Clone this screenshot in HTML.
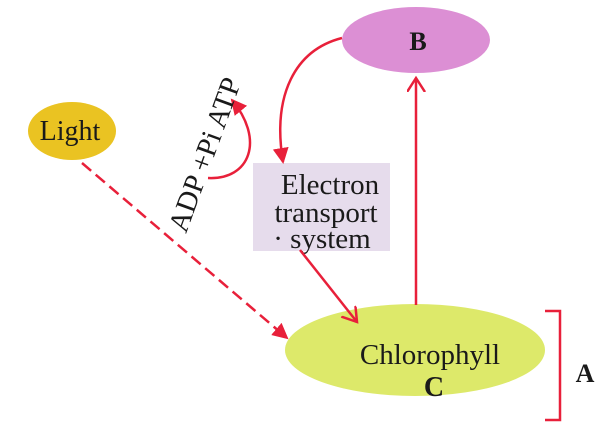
<!DOCTYPE html>
<html><head><style>
html,body{margin:0;padding:0;background:#fff;}
body{width:606px;height:435px;overflow:hidden;}
svg text{font-family:"Liberation Serif",serif;fill:#1a1a1a;}
</style></head><body>
<svg width="606" height="435" viewBox="0 0 606 435" xmlns="http://www.w3.org/2000/svg">
<defs>
<marker id="f" markerWidth="20" markerHeight="20" refX="14" refY="8" orient="auto" markerUnits="userSpaceOnUse"><path d="M0,0 L16,8 L0,16 Z" fill="#e8203a"/></marker>
<marker id="o" markerWidth="18" markerHeight="20" refX="14" refY="9" orient="auto" markerUnits="userSpaceOnUse"><path d="M0,0 L14,9 L0,18" fill="none" stroke="#e8203a" stroke-width="2.5"/></marker>
</defs>
<ellipse cx="416" cy="40" rx="74" ry="33" fill="#dc8fd4"/>
<text x="418" y="50" font-size="26" font-weight="bold" text-anchor="middle">B</text>
<ellipse cx="72" cy="131" rx="44" ry="29" fill="#eac322"/>
<text x="70" y="140" font-size="28" text-anchor="middle">Light</text>
<rect x="253" y="163" width="137" height="88" fill="#e6dcec"/>
<text x="330" y="194" font-size="29" text-anchor="middle">Electron</text>
<text x="326" y="222" font-size="29" text-anchor="middle">transport</text>
<text x="322" y="248" font-size="29" text-anchor="middle">· system</text>
<ellipse cx="415" cy="350" rx="130" ry="46" fill="#dde96a"/>
<text x="430" y="364" font-size="29" text-anchor="middle">Chlorophyll</text>
<text x="434" y="396" font-size="28" font-weight="bold" text-anchor="middle">C</text>
<line x1="416" y1="305" x2="416" y2="78" stroke="#e8203a" stroke-width="2.5" marker-end="url(#o)"/>
<path d="M342,38 C295,50 272,95 283,162" fill="none" stroke="#e8203a" stroke-width="2.5" marker-end="url(#f)"/>
<path d="M208,178 C250,180 265,140 232,100" fill="none" stroke="#e8203a" stroke-width="2.5" marker-end="url(#f)"/>
<line x1="300" y1="250" x2="357" y2="322" stroke="#e8203a" stroke-width="2.5" marker-end="url(#o)"/>
<line x1="82" y1="163" x2="287" y2="338" stroke="#e8203a" stroke-width="2.5" stroke-dasharray="12,6" marker-end="url(#f)"/>
<path d="M545,311 L560,311 L560,420 L545,420" fill="none" stroke="#e8203a" stroke-width="2.5"/>
<text x="585" y="382" font-size="26" font-weight="bold" text-anchor="middle">A</text>
<text transform="translate(186,234) rotate(-70)" font-size="29">ADP +Pi  ATP</text>
</svg>
</body></html>
